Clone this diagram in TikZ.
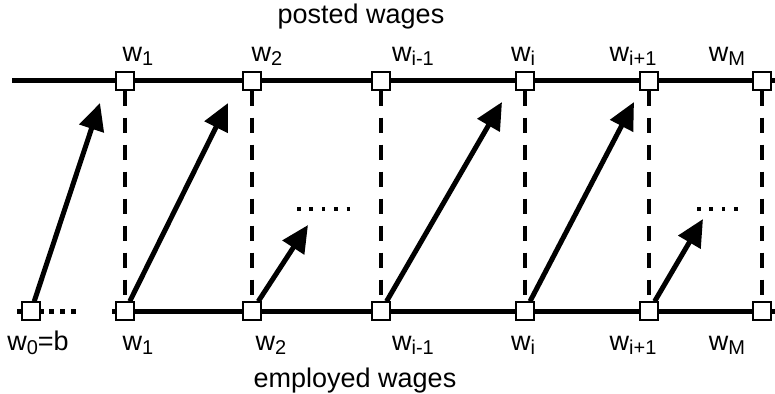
\documentclass[tikz,border=0pt]{standalone}
\usepackage{fontspec}
\setmainfont{Liberation Sans}
\usetikzlibrary{arrows.meta, positioning}

\newcommand{\wsub}[1]{w\raisebox{-4pt}{\fontsize{20}{20}\selectfont #1}}

\begin{document}
\begin{tikzpicture}[
    x=1pt, y=-1pt,
    wage/.style={rectangle, draw, fill=white, line width=1.3pt, inner sep=0pt, minimum size=18pt},
    lab/.style={anchor=base, inner sep=0pt, font=\fontsize{27}{30}\selectfont},
    wageline/.style={draw, line width=5pt},
    guide/.style={draw, line width=4.5pt, dash pattern=on 15pt off 12pt},
    move/.style={draw, line width=5pt, -{Triangle[length=27pt, width=25pt]}},
    dotrow/.style={draw, line width=3.5pt, dash pattern=on 3.5pt off 8.9pt},
    lowdots/.style={draw, line width=5pt, dash pattern=on 5pt off 5.8pt}
]
\useasboundingbox (0,0) rectangle (775,393);

% the two wage lines
\coordinate (topL) at (12,81);
\coordinate (topR) at (775,81);
\coordinate (botL) at (112,311);
\coordinate (botR) at (775,311);
\coordinate (lowL) at (17,311);
\coordinate (lowR) at (81,311);
\path [wageline] (topL) -- (topR);
\path [wageline] (botL) -- (botR);
\path [lowdots] (lowL) -- (lowR);

% posted wages
\node [wage] (t1) at (125,81) {};
\node [wage] (t2) at (252,81) {};
\node [wage] (tim) at (381,81) {};
\node [wage] (ti) at (525,81) {};
\node [wage] (tip) at (649,81) {};
\node [wage] (tM) at (762,81) {};

% employed wages
\node [wage] (b0) at (31,311) {};
\node [wage] (b1) at (125,311) {};
\node [wage] (b2) at (252,311) {};
\node [wage] (bim) at (381,311) {};
\node [wage] (bi) at (525,311) {};
\node [wage] (bip) at (649,311) {};
\node [wage] (bM) at (762,311) {};

\node [lab] (posted) at (361,24) {posted wages};
\node [lab] (employed) at (355,387) {employed wages};

\node [lab] (lt1) at (138,62) {\wsub{1}};
\node [lab] (lt2) at (267,62) {\wsub{2}};
\node [lab] (ltim) at (413,62) {\wsub{i-1}};
\node [lab] (lti) at (523,62) {\wsub{i}};
\node [lab] (ltip) at (633,62) {\wsub{i+1}};
\node [lab] (ltM) at (727,62) {\wsub{M}};

\node [lab] (lb0) at (38,350) {\wsub{0}=b};
\node [lab] (lb1) at (138,350) {\wsub{1}};
\node [lab] (lb2) at (271,350) {\wsub{2}};
\node [lab] (lbim) at (413,350) {\wsub{i-1}};
\node [lab] (lbi) at (523,350) {\wsub{i}};
\node [lab] (lbip) at (633,350) {\wsub{i+1}};
\node [lab] (lbM) at (727,350) {\wsub{M}};

% vertical guides
\foreach \w in {1,2,im,i,ip,M}
    \path [guide] (t\w) -- (b\w);

% arrow tips
\coordinate (h0) at (100,103);
\coordinate (h1) at (228,103);
\coordinate (h2) at (308,225);
\coordinate (h3) at (502,102);
\coordinate (h4) at (634,102);
\coordinate (h5) at (703,219);

\path [move] (b0) -- (h0);
\path [move] (b1) -- (h1);
\path [move] (b2) -- (h2);
\path [move] (bim) -- (h3);
\path [move] (bi) -- (h4);
\path [move] (bip) -- (h5);

% gaps
\coordinate (g1) at (297,209);
\coordinate (g2) at (350,209);
\coordinate (g3) at (697,209);
\coordinate (g4) at (738,209);
\path [dotrow] (g1) -- (g2);
\path [dotrow] (g3) -- (g4);

\end{tikzpicture}
\end{document}
